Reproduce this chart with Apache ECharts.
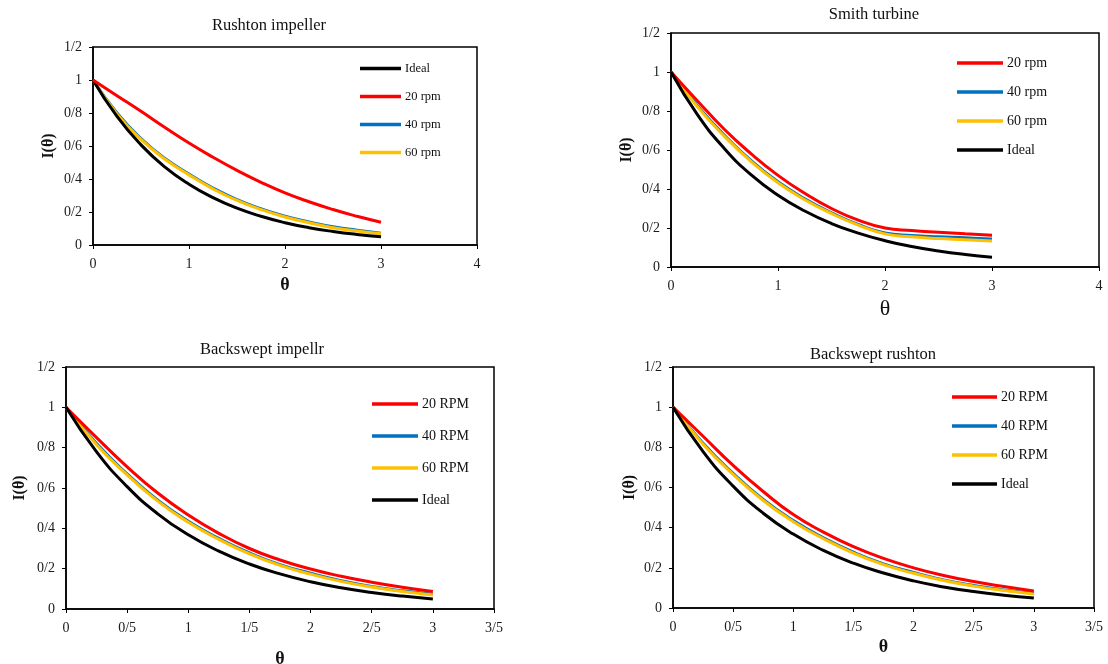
<!DOCTYPE html>
<html>
<head>
<meta charset="utf-8">
<script src="https://cdn.jsdelivr.net/npm/echarts@6/dist/echarts.min.js"></script>
<style>
  html, body { margin: 0; padding: 0; background: #fff; }
  #main { width: 1108px; height: 664px; }
</style>
</head>
<body>
<div id="main"></div>
<script>
    // theta values shared by every curve
    var theta = [0, 0.25, 0.5, 0.75, 1, 1.25, 1.5, 1.75, 2, 2.25, 2.5, 2.75, 3];

    var ideal = [1, 0.779, 0.607, 0.472, 0.368, 0.287, 0.223, 0.174, 0.135, 0.105, 0.082, 0.064, 0.05];

    // Rushton impeller
    var rushton20 = [1, 0.905, 0.81, 0.712, 0.618, 0.532, 0.452, 0.38, 0.316, 0.262, 0.215, 0.174, 0.138];
    var rushton40 = [1, 0.8, 0.645, 0.525, 0.43, 0.345, 0.275, 0.22, 0.175, 0.14, 0.11, 0.09, 0.072];
    var rushton60 = [1, 0.795, 0.64, 0.52, 0.425, 0.34, 0.27, 0.215, 0.17, 0.135, 0.105, 0.085, 0.068];

    // Smith turbine
    var smith20 = [1, 0.85, 0.705, 0.58, 0.47, 0.378, 0.3, 0.24, 0.2, 0.187, 0.178, 0.17, 0.163];
    var smith40 = [1, 0.825, 0.675, 0.545, 0.437, 0.35, 0.278, 0.218, 0.175, 0.162, 0.155, 0.15, 0.143];
    var smith60 = [1, 0.82, 0.67, 0.54, 0.432, 0.345, 0.274, 0.215, 0.17, 0.155, 0.146, 0.14, 0.133];

    // Backswept impellr
    var bsImp20 = [1, 0.85, 0.705, 0.575, 0.466, 0.375, 0.3, 0.243, 0.198, 0.162, 0.133, 0.108, 0.087];
    var bsImp40 = [1, 0.82, 0.67, 0.54, 0.435, 0.35, 0.278, 0.22, 0.177, 0.14, 0.112, 0.09, 0.073];
    var bsImp60 = [1, 0.815, 0.665, 0.535, 0.43, 0.345, 0.273, 0.216, 0.173, 0.137, 0.109, 0.087, 0.07];

    // Backswept rushton
    var bsRush20 = [1, 0.855, 0.71, 0.58, 0.465, 0.378, 0.305, 0.247, 0.2, 0.162, 0.132, 0.107, 0.085];
    var bsRush40 = [1, 0.82, 0.67, 0.54, 0.435, 0.35, 0.278, 0.22, 0.177, 0.14, 0.112, 0.09, 0.073];
    var bsRush60 = [1, 0.815, 0.665, 0.535, 0.43, 0.345, 0.273, 0.216, 0.173, 0.137, 0.109, 0.087, 0.07];

    var titles = ["Rushton impeller", "Smith turbine", "Backswept impellr", "Backswept rushton"];

    var RED = "#ff0000", BLUE = "#0070c0", YELLOW = "#ffc000", BLACK = "#000000";
    var FONT = "Liberation Serif";

    function pairs(ys) {
        return theta.map(function (t, i) { return [t, ys[i]]; });
    }

    // Persian style decimal mark: 0.2 -> 0/2
    function persian(v) {
        return String(+v.toFixed(1)).replace(".", "/");
    }

    var grids = [
        {left: 93, top: 47, width: 384, height: 198},
        {left: 671, top: 33, width: 428, height: 234},
        {left: 66, top: 367, width: 428, height: 242},
        {left: 673, top: 367, width: 421, height: 241}
    ];
    var xMax = [4, 4, 3.5, 3.5];
    var xInterval = [1, 1, 0.5, 0.5];
    var xNameGap = [31, 31, 41, 30];
    var xNameSize = [18, 22, 18, 18];
    var xNameBold = ["bold", "normal", "bold", "bold"];
    var yNameGap = [36, 36, 38, 35];
    var titlePos = [[264, 12], [869, 1], [257, 336], [868, 341]];

    var legends = [
        {left: 360, top: 62, w: 41, gap: 15, size: 12.5, data: ["Ideal", "20 rpm", "40 rpm", "60 rpm"]},
        {left: 957, top: 56, w: 46, gap: 15, size: 14, data: ["20 rpm", "40 rpm", "60 rpm", "Ideal"]},
        {left: 372, top: 397, w: 46, gap: 18, size: 14, data: ["20 RPM", "40 RPM", "60 RPM", "Ideal"]},
        {left: 952, top: 390, w: 45, gap: 15, size: 14, data: ["20 RPM", "40 RPM", "60 RPM", "Ideal"]}
    ];

    var panelSeries = [
        [["Ideal", ideal, BLACK], ["20 rpm", rushton20, RED], ["40 rpm", rushton40, BLUE], ["60 rpm", rushton60, YELLOW]],
        [["20 rpm", smith20, RED], ["40 rpm", smith40, BLUE], ["60 rpm", smith60, YELLOW], ["Ideal", ideal, BLACK]],
        [["20 RPM", bsImp20, RED], ["40 RPM", bsImp40, BLUE], ["60 RPM", bsImp60, YELLOW], ["Ideal", ideal, BLACK]],
        [["20 RPM", bsRush20, RED], ["40 RPM", bsRush40, BLUE], ["60 RPM", bsRush60, YELLOW], ["Ideal", ideal, BLACK]]
    ];

    var option = {
        animation: false,
        backgroundColor: "#fff",
        textStyle: {fontFamily: FONT},
        title: [],
        legend: [],
        grid: [],
        xAxis: [],
        yAxis: [],
        series: []
    };

    for (var p = 0; p < 4; p++) {
        option.title.push({
            text: titles[p],
            left: titlePos[p][0],
            top: titlePos[p][1],
            textAlign: "center",
            textStyle: {fontFamily: FONT, fontSize: 16.5, fontWeight: "normal", color: "#111"}
        });
        option.grid.push({
            left: grids[p].left, top: grids[p].top, width: grids[p].width, height: grids[p].height,
            show: true, borderColor: "#000", borderWidth: 1.5, containLabel: false,
            outerBoundsMode: "none"
        });
        option.xAxis.push({
            type: "value", gridIndex: p, min: 0, max: xMax[p], interval: xInterval[p],
            name: "θ", nameLocation: "middle", nameGap: xNameGap[p],
            nameTextStyle: {fontFamily: FONT, fontSize: xNameSize[p], fontWeight: xNameBold[p], color: "#111"},
            axisLine: {lineStyle: {color: "#000", width: 1.5}},
            axisTick: {show: true, inside: false, length: 4, lineStyle: {color: "#000"}},
            axisLabel: {formatter: persian, fontFamily: FONT, fontSize: 14, color: "#1a1a1a", margin: 12},
            splitLine: {show: false}
        });
        option.yAxis.push({
            type: "value", gridIndex: p, min: 0, max: 1.2, interval: 0.2,
            name: "I(θ)", nameLocation: "middle", nameGap: yNameGap[p],
            nameTextStyle: {fontFamily: FONT, fontSize: 16, fontWeight: "bold", color: "#111"},
            axisLine: {lineStyle: {color: "#000", width: 1.5}},
            axisTick: {show: true, inside: false, length: 4, lineStyle: {color: "#000"}},
            axisLabel: {formatter: persian, fontFamily: FONT, fontSize: 14, color: "#1a1a1a", margin: 11},
            splitLine: {show: false}
        });
        option.legend.push({
            orient: "vertical",
            left: legends[p].left,
            top: legends[p].top,
            padding: 0,
            itemGap: legends[p].gap,
            itemWidth: legends[p].w,
            itemHeight: 3.5,
            icon: "rect",
            itemStyle: {borderWidth: 0},
            selectedMode: false,
            textStyle: {fontFamily: FONT, fontSize: legends[p].size, color: "#111", padding: [0, 0, 0, -1]},
            data: legends[p].data
        });
        panelSeries[p].forEach(function (s) {
            option.series.push({
                name: s[0],
                type: "line",
                xAxisIndex: p,
                yAxisIndex: p,
                data: pairs(s[1]),
                smooth: true,
                showSymbol: false,
                symbol: "none",
                color: s[2],
                lineStyle: {color: s[2], width: 3},
                z: s[2] === BLUE ? 2 : (s[2] === YELLOW ? 3 : 4)
            });
        });
    }

    var chart = echarts.init(document.getElementById("main"));
    chart.setOption(option);
</script>
</body>
</html>
